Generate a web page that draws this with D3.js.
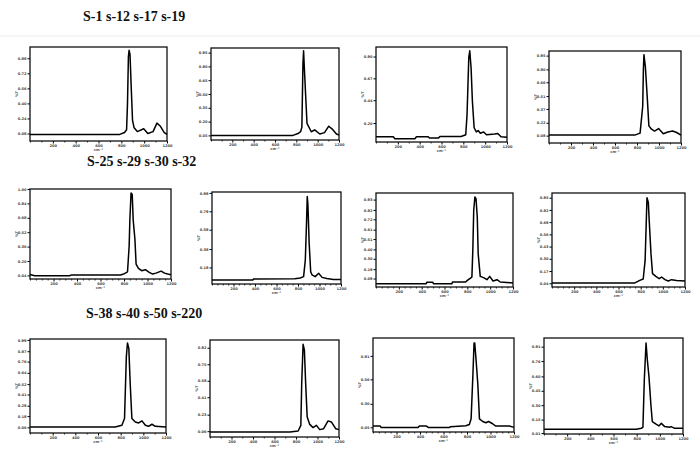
<!DOCTYPE html>
<html>
<head>
<meta charset="utf-8">
<script src="https://cdn.jsdelivr.net/npm/d3@7"></script>
<style>
  body { margin: 0; background: #fff; }
</style>
</head>
<body>
<script>
// row headings, as printed above each row of spectra
const rowTitles = ["S-1 s-12 s-17 s-19", "S-25 s-29 s-30 s-32", "S-38 s-40 s-50 s-220"]

// shared x axis (wavenumber) ticks
const xTicks = [200, 400, 600, 800, 1000, 1200]

// spectra: [x, intensity %]
const s1 = [[0,7],[786,7],[828,9],[846,12],[854,40],[862,90],[868,96.5],[876,92],[886,59],[898,22],[912,14],[940,10],[996,13],[1032,8],[1078,10],[1112,19],[1140,16],[1176,9],[1200,7]]
const s12 = [[0,5],[768,5],[816,7],[840,9],[852,14],[862,83],[868,97],[874,81],[888,47],[900,18],[940,9],[972,11],[1020,6.5],[1064,8],[1104,15],[1140,11.5],[1176,6.5],[1200,5.4]]
const s17 = [[0,5.6],[158,5.6],[173,3.5],[356,3.5],[371,5.6],[478,5.6],[490,4.2],[573,4.2],[585,5.8],[780,5.8],[822,7.7],[834,29],[850,89],[859,96],[871,78],[883,43],[899,15],[919,10.6],[936,12],[956,9.2],[986,10.6],[1012,7.7],[1087,8.5],[1116,9],[1145,5.6],[1200,5]]
const s19 = [[0,8.6],[780,8.6],[828,10.7],[852,40],[858,79],[863,96],[876,83],[893,50],[908,18.6],[932,15],[960,13],[996,15.7],[1039,10],[1080,12],[1124,13],[1160,11.4],[1200,8.6]]

const s25 = [[0,5],[40,3.7],[340,3.7],[352,4.5],[770,4.5],[796,5.5],[830,8],[844,37],[850,66],[860,95.6],[870,94],[878,66],[893,44],[903,16.5],[923,11.8],[950,9.2],[982,10.3],[1015,7.4],[1044,5.5],[1072,6.5],[1116,8.8],[1145,6.5],[1172,5.5],[1200,4.8]]
const s29 = [[0,4.3],[380,4.3],[385,5.4],[770,5.6],[820,6.5],[852,8],[868,26],[880,69],[886,95],[892,87],[904,44],[918,13.4],[930,10],[960,8],[992,11.6],[1024,7.2],[1068,6],[1130,5],[1200,5]]
const s30 = [[0,3.5],[440,3.5],[445,5],[498,5],[503,3.5],[665,3.5],[670,5.3],[785,5.3],[800,7],[840,10.6],[848,39],[856,81.6],[866,95.7],[876,94],[887,74.5],[895,35.5],[913,11.3],[942,10],[972,7.8],[996,11.3],[1025,6.4],[1060,7.8],[1088,5.3],[1200,4.3]]
const s32 = [[0,4.3],[748,4.3],[792,7],[823,8.5],[840,28],[851,71],[857,95],[869,90],[877,71],[893,35.5],[907,14.2],[937,11.3],[967,8.9],[989,10.6],[1019,7.8],[1049,6.4],[1079,7.8],[1124,7],[1200,6.4]]

const s38 = [[0,6.4],[752,6.4],[811,8.2],[834,15.4],[850,81],[860,95.7],[872,90],[884,53],[899,15.4],[929,11.8],[959,10.7],[988,12.9],[1018,8.2],[1046,7.1],[1076,9.3],[1105,7.1],[1200,6.4]]
const s40 = [[0,5.2],[743,5.2],[820,6.2],[845,12],[853,55],[866,95.5],[878,89.7],[890,55],[904,20.7],[928,13],[959,9.7],[990,12],[1021,7.6],[1057,8.6],[1098,16.6],[1129,15.5],[1169,8.6],[1200,7.6]]
const s50 = [[0,6.3],[60,6.3],[70,4.9],[384,4.9],[395,6.3],[455,6.3],[470,4.9],[650,4.9],[660,5.6],[790,6.6],[820,8],[835,14],[850,60],[860,94.7],[866,94.7],[877,77],[892,51],[906,14],[934,11.2],[961,9.8],[984,11.2],[1018,8.8],[1045,6.3],[1160,6.3],[1200,4.9]]
const s220 = [[0,4.9],[797,4.9],[840,6],[854,7],[866,56.5],[881,94.8],[892,77.4],[906,60],[924,28.6],[935,13],[964,10.5],[992,8.4],[1013,11.1],[1042,7.7],[1085,7],[1098,7.7],[1128,5.9],[1200,5.9]]

// y tick values of each panel (in intensity %)
const yTickSets = [
    [8, 24, 40, 56, 72, 88],
    [5, 20, 35, 50, 65, 80, 95],
    [20, 44, 67, 90],
    [8, 22, 37, 51, 66, 80, 95],
    [4, 20, 36, 52, 68, 84, 100],
    [18, 38, 59, 79, 99],
    [9, 19, 30, 40, 51, 61, 72, 82, 93],
    [4, 17, 30, 43, 56, 69, 82, 95],
    [6, 18, 29, 41, 52, 64, 76, 87, 99],
    [6, 23, 41, 58, 75, 92],
    [5, 30, 56, 81],
    [1, 15, 30, 45, 60, 76, 91]
]

const series = [s1, s12, s17, s19, s25, s29, s30, s32, s38, s40, s50, s220]

// layout: plot frame of each panel [left, right, top, bottom]
const frames = [
    [30, 167, 47, 141], [211, 339, 48, 140], [376, 507, 47, 142], [549, 681, 51, 143],
    [30, 171, 189, 279], [212, 341, 192, 284], [376, 513, 193, 287], [552, 685, 193, 287],
    [30, 166, 339, 433], [210, 339, 340, 437], [373, 514, 338, 432], [544, 683, 338, 434]
]
const titlePos = [[83, 21], [87, 166], [86, 318]]
const minorStep = [100, 100, 100, 100, 50, 50, 50, 50, 100, 100, 50, 100]

const width = 700, height = 456

const svg = d3.select("body").append("svg")
    .attr("width", width)
    .attr("height", height)

svg.append("line")
    .attr("x1", 0).attr("x2", width)
    .attr("y1", 36).attr("y2", 36)
    .attr("stroke", "#ececec")
    .attr("stroke-width", 1)

svg.selectAll(".rowTitle")
    .data(rowTitles)
    .join("text")
    .attr("class", "rowTitle")
    .attr("x", (d, i) => titlePos[i][0])
    .attr("y", (d, i) => titlePos[i][1])
    .attr("font-family", "Liberation Serif, Times New Roman, serif")
    .attr("font-weight", "bold")
    .attr("font-size", 14)
    .attr("fill", "#111")
    .text(d => d)

const line = d3.line()

series.forEach((data, i) => {
    const [x0, x1, y0, y1] = frames[i]
    const x = d3.scaleLinear().domain([0, 1200]).range([x0, x1])
    const y = d3.scaleLinear().domain([0, 100]).range([y1, y0])
    const g = svg.append("g").attr("class", "panel")

    const minors = d3.range(0, 1201, minorStep[i]).filter(v => !xTicks.includes(v))

    // minor x ticks
    g.append("g")
        .attr("transform", `translate(0,${y1})`)
        .call(d3.axisBottom(x).tickValues(minors).tickSize(1.5).tickFormat(""))
        .call(a => a.select(".domain").remove())
        .call(a => a.selectAll("line").attr("stroke-width", 0.8))

    // major x ticks
    g.append("g")
        .attr("transform", `translate(0,${y1})`)
        .call(d3.axisBottom(x).tickValues(xTicks).tickSize(2.5).tickPadding(1).tickFormat(d3.format("d")))
        .call(a => a.select(".domain").remove())
        .call(a => a.selectAll("line").attr("stroke-width", 1))
        .call(a => a.selectAll("text").attr("font-size", 3.6).attr("font-family", "DejaVu Sans").attr("font-weight", "bold").attr("fill", "#444"))

    // y ticks
    g.append("g")
        .attr("transform", `translate(${x0},0)`)
        .call(d3.axisLeft(y).tickValues(yTickSets[i]).tickSize(2.5).tickPadding(1).tickFormat(d => d3.format(".2f")(d / 100)))
        .call(a => a.select(".domain").remove())
        .call(a => a.selectAll("line").attr("stroke-width", 1))
        .call(a => a.selectAll("text").attr("font-size", 3.6).attr("font-family", "DejaVu Sans").attr("font-weight", "bold").attr("fill", "#444"))

    // frame
    g.append("rect")
        .attr("x", x0).attr("y", y0)
        .attr("width", x1 - x0).attr("height", y1 - y0)
        .attr("fill", "none")
        .attr("stroke", "#111")
        .attr("stroke-width", 1.3)

    // spectrum
    g.append("path")
        .datum(data)
        .attr("fill", "none")
        .attr("stroke", "#000")
        .attr("stroke-width", 1.5)
        .attr("stroke-linejoin", "round")
        .attr("d", line.x(d => x(d[0])).y(d => y(d[1])))

    // axis titles
    g.append("text")
        .attr("x", (x0 + x1) / 2)
        .attr("y", y1 + 10)
        .attr("text-anchor", "middle")
        .attr("font-size", 3.6)
        .attr("font-family", "DejaVu Sans")
        .attr("font-weight", "bold")
        .attr("fill", "#555")
        .text("cm⁻¹")

    g.append("text")
        .attr("transform", `translate(${x0 - 12},${(y0 + y1) / 2}) rotate(-90)`)
        .attr("text-anchor", "middle")
        .attr("font-size", 3.6)
        .attr("font-family", "DejaVu Sans")
        .attr("font-weight", "bold")
        .attr("fill", "#444")
        .text("%T")
})
</script>
</body>
</html>
